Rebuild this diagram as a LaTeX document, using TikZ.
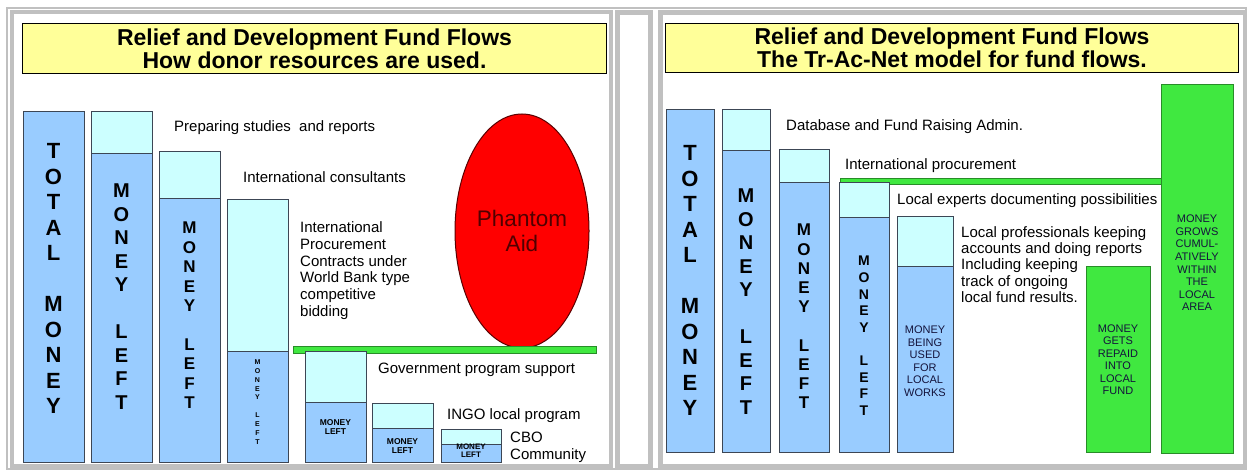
\documentclass[tikz,border=0pt]{standalone}
\usepackage{fontspec}
\setmainfont{Liberation Sans}
\usepackage{tikz}
\usetikzlibrary{shapes}
\usepackage{xcolor}
\definecolor{barblue}{RGB}{153,204,255}
\definecolor{barcyan}{RGB}{204,255,255}
\definecolor{baredge}{RGB}{60,70,85}
\definecolor{fundgreen}{RGB}{64,232,64}
\definecolor{greenedge}{RGB}{40,140,40}
\definecolor{titleyellow}{RGB}{255,255,153}
\definecolor{framegray}{RGB}{192,192,192}
\definecolor{phantomred}{RGB}{255,0,0}
\definecolor{phantomedge}{RGB}{90,0,0}
\definecolor{phantomtext}{RGB}{80,0,0}
\definecolor{boxtext}{RGB}{20,20,60}
\tikzstyle{spent} = [rectangle, anchor=north west, inner sep=0pt, outer sep=0pt, draw=baredge, fill=barcyan, line width=1pt]
\tikzstyle{moneyleft} = [spent, fill=barblue]
\tikzstyle{growth} = [rectangle, anchor=north west, inner sep=0pt, outer sep=0pt, draw=greenedge, fill=fundgreen, line width=1pt]
\tikzstyle{heading} = [rectangle, anchor=north west, inner sep=0pt, draw=black, fill=titleyellow, line width=1pt, align=center, font=\fontsize{23}{23}\selectfont\bfseries]
\tikzstyle{note} = [anchor=west, inner sep=0pt, font=\fontsize{15}{17}\selectfont]
\tikzstyle{notes} = [anchor=north west, inner sep=0pt, align=left]
\tikzstyle{stack} = [align=center, inner sep=0pt]
\tikzstyle{capsword} = [align=center, inner sep=0pt, text=boxtext, font=\fontsize{11}{12.5}\selectfont]

\begin{document}
\begin{tikzpicture}[x=1pt, y=-1pt]
\useasboundingbox (0,0) rectangle (1247,470);
% Frame
\draw[framegray, line width=2] (7,8) rectangle (1246,469);
\draw[framegray, line width=4] (12,12.5) rectangle (610.5,466);
\draw[framegray, line width=5] (617.5,13) rectangle (650.5,466);
\draw[framegray, line width=5] (660,13) rectangle (1245,466);

% Titles
\node (Ltitle) [heading, minimum width=584, minimum height=50] at (22,23) {Relief and Development Fund Flows\\How donor resources are used.};
\node (Rtitle) [heading, minimum width=573, minimum height=49] at (665,23) {Relief and Development Fund Flows\\The Tr-Ac-Net model for fund flows.};

% Left: bars
\node (L1total) [moneyleft, minimum width=61, minimum height=350] at (23,112) {};
\node (L2spent) [spent, minimum width=61, minimum height=42] at (91,112) {};
\node (L2left) [moneyleft, minimum width=61, minimum height=308] at (91,154) {};
\node (L3spent) [spent, minimum width=61, minimum height=47] at (159,152) {};
\node (L3left) [moneyleft, minimum width=61, minimum height=263] at (159,199) {};
\node (L4spent) [spent, minimum width=61, minimum height=151] at (227,200) {};
\node (L4left) [moneyleft, minimum width=61, minimum height=111] at (227,351) {};
\node (phantom) [ellipse, draw=phantomedge, fill=phantomred, line width=1pt, minimum width=134, minimum height=234, inner sep=0pt, align=center, text=phantomtext, font=\fontsize{22.5}{25}\selectfont] at (522,231) {Phantom\\Aid};
\node (Lshelf) [growth, minimum width=303, minimum height=7] at (293,346) {};
\node (L5spent) [spent, minimum width=61, minimum height=51] at (305,351) {};
\node (L5left) [moneyleft, minimum width=61, minimum height=60] at (305,402) {};
\node (L6spent) [spent, minimum width=61, minimum height=25] at (372,403) {};
\node (L6left) [moneyleft, minimum width=61, minimum height=34] at (372,428) {};
\node (L7spent) [spent, minimum width=60, minimum height=15] at (441,429) {};
\node (L7left) [moneyleft, minimum width=60, minimum height=18] at (441,444) {};

% Left: words in bars
\node (L1word) [stack, font=\fontsize{22}{25.5}\selectfont\bfseries] at (53.5,278.5) {T\\O\\T\\A\\L\\~\\M\\O\\N\\E\\Y};
\node (L2word) [stack, font=\fontsize{20}{23.5}\selectfont\bfseries] at (121.5,296.8) {M\\O\\N\\E\\Y\\~\\L\\E\\F\\T};
\node (L3word) [stack, font=\fontsize{17}{19.4}\selectfont\bfseries] at (189.5,315.3) {M\\O\\N\\E\\Y\\~\\L\\E\\F\\T};
\node (L4word) [stack, font=\fontsize{7}{8.9}\selectfont\bfseries] at (257.5,402) {M\\O\\N\\E\\Y\\~\\L\\E\\F\\T};
\node (L5word) [stack, font=\fontsize{8.5}{9}\selectfont\bfseries] at (335.5,427.5) {MONEY\\LEFT};
\node (L6word) [stack, font=\fontsize{8.5}{9}\selectfont\bfseries] at (402.5,446.5) {MONEY\\LEFT};
\node (L7word) [stack, font=\fontsize{8}{8}\selectfont\bfseries] at (471,451) {MONEY\\LEFT};

% Left: notes
\node (L2note) [note] at (174,128) {Preparing studies\ \ and reports};
\node (L3note) [note] at (243,177) {International consultants};
\node (L4note) [notes, font=\fontsize{15}{16.8}\selectfont] at (300,221.5) {International\\Procurement\\Contracts under\\World Bank type\\competitive\\bidding};
\node (L5note) [note] at (378,370) {Government program support};
\node (L6note) [note] at (447,416) {INGO local program};
\node (L7note) [notes, font=\fontsize{15}{17}\selectfont] at (510,431.5) {CBO\\Community};

% Right: bars
\node (R1total) [moneyleft, minimum width=48, minimum height=342] at (666,110) {};
\node (R2spent) [spent, minimum width=48, minimum height=41] at (722,110) {};
\node (R2left) [moneyleft, minimum width=48, minimum height=301] at (722,151) {};
\node (R3spent) [spent, minimum width=50, minimum height=33] at (779,150) {};
\node (R3left) [moneyleft, minimum width=50, minimum height=269] at (779,183) {};
\node (Rshelf) [growth, minimum width=321, minimum height=6] at (840,179) {};
\node (R4spent) [spent, minimum width=50, minimum height=35] at (839,183) {};
\node (R4left) [moneyleft, minimum width=50, minimum height=234] at (839,218) {};
\node (R5spent) [spent, minimum width=56, minimum height=50] at (897,217) {};
\node (R5left) [moneyleft, minimum width=56, minimum height=185] at (897,267) {};
\node (repaid) [growth, minimum width=64, minimum height=185] at (1086,267) {};
\node (grows) [growth, minimum width=72, minimum height=368] at (1161,85) {};

% Right: words in bars
\node (R1word) [stack, font=\fontsize{22}{25.5}\selectfont\bfseries] at (690,280.5) {T\\O\\T\\A\\L\\~\\M\\O\\N\\E\\Y};
\node (R2word) [stack, font=\fontsize{20}{23.5}\selectfont\bfseries] at (746,301.8) {M\\O\\N\\E\\Y\\~\\L\\E\\F\\T};
\node (R3word) [stack, font=\fontsize{17}{19.2}\selectfont\bfseries] at (804,316.4) {M\\O\\N\\E\\Y\\~\\L\\E\\F\\T};
\node (R4word) [stack, font=\fontsize{14}{16.6}\selectfont\bfseries] at (864,335.7) {M\\O\\N\\E\\Y\\~\\L\\E\\F\\T};
\node (R5word) [capsword] at (925,361) {MONEY\\BEING\\USED\\FOR\\LOCAL\\WORKS};
\node (repaidword) [capsword] at (1118,359.5) {MONEY\\GETS\\REPAID\\INTO\\LOCAL\\FUND};
\node (growsword) [capsword, font=\fontsize{11}{12.6}\selectfont] at (1197,263) {MONEY\\GROWS\\CUMUL-\\ATIVELY\\WITHIN\\THE\\LOCAL\\AREA};

% Right: notes
\node (R2note) [note] at (786,127) {Database and Fund Raising Admin.};
\node (R3note) [note] at (845,166) {International procurement};
\node (R4note) [note] at (897,201) {Local experts documenting possibilities};
\node (R5note) [notes, font=\fontsize{15}{16.2}\selectfont] at (961,226.4) {Local professionals keeping\\accounts and doing reports\\Including keeping\\track of ongoing\\local fund results.};
\end{tikzpicture}
\end{document}
